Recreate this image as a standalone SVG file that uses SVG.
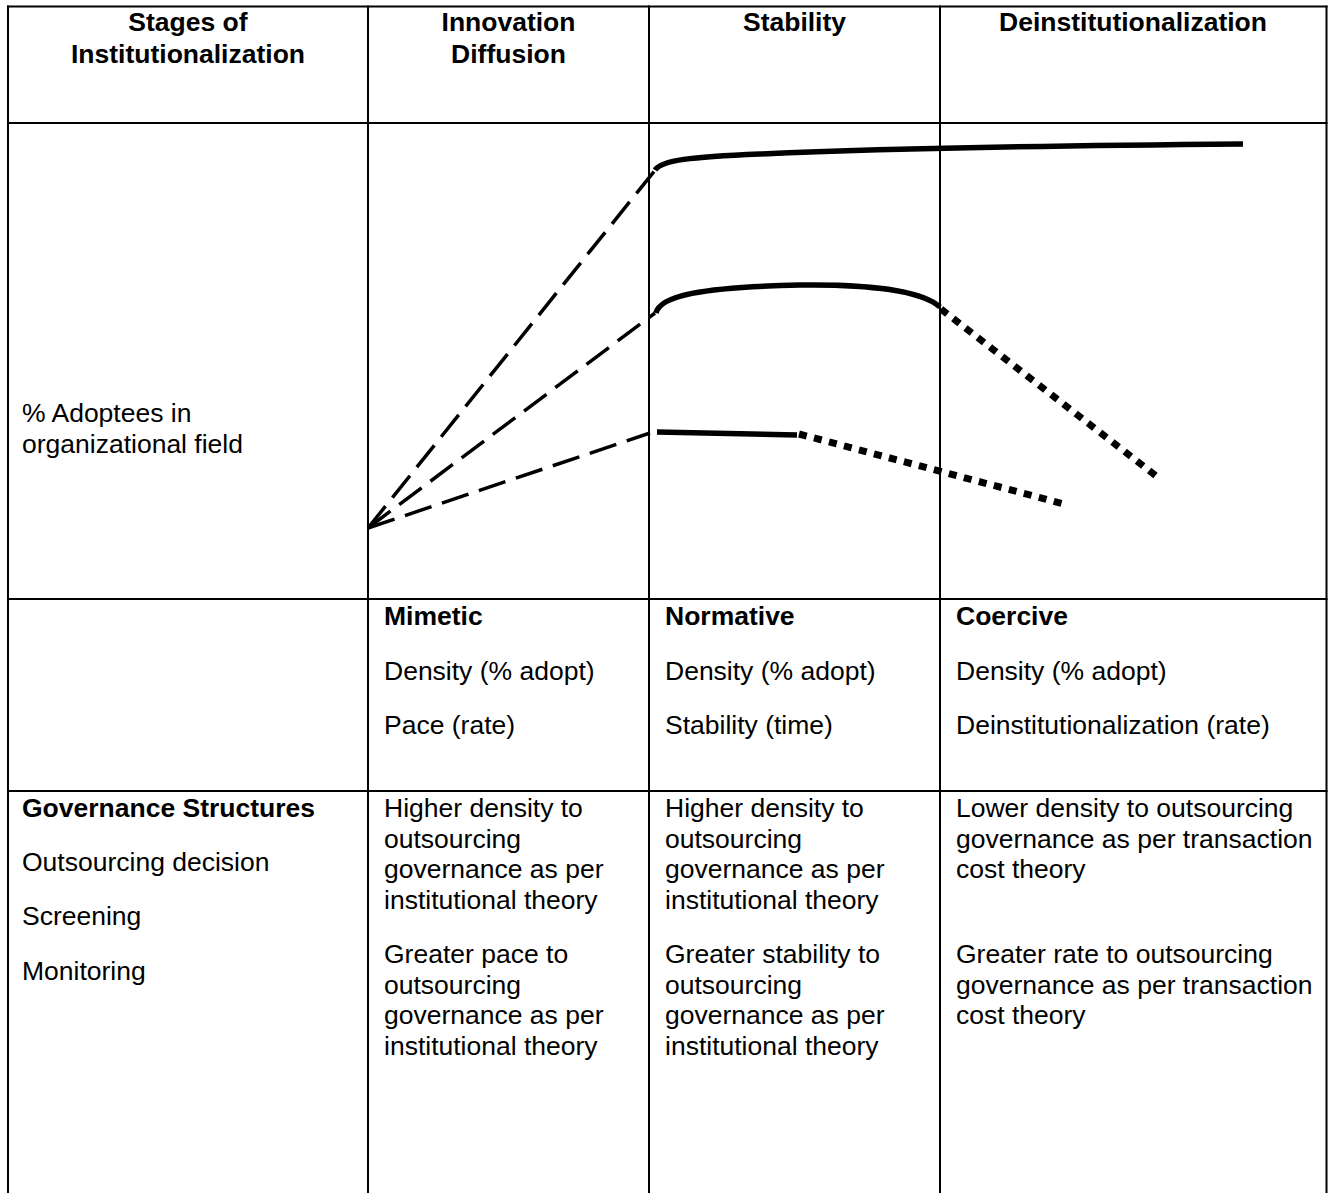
<svg xmlns="http://www.w3.org/2000/svg" width="1330" height="1193" viewBox="0 0 1330 1193">
<style>
  text { font-family: "Liberation Sans", Arial, sans-serif; font-size: 26.5px; fill: #000; }
  .b { font-weight: bold; }
  .h { font-weight: bold; text-anchor: middle; }
  .grid { stroke: #000; stroke-width: 2; fill: none; }
  .dash { stroke: #000; stroke-width: 3.5; fill: none; stroke-dasharray: 28 11; }
  .solid { stroke: #000; stroke-width: 5.5; fill: none; }
  .dot { stroke: #000; stroke-width: 7; fill: none; stroke-dasharray: 8 7.5; }
</style>
<rect width="1330" height="1193" fill="#fff"/>
<g id="table">
  <line class="grid" x1="7" y1="6.5" x2="1327.5" y2="6.5"/>
  <line class="grid" x1="7" y1="123" x2="1327.5" y2="123"/>
  <line class="grid" x1="7" y1="599" x2="1327.5" y2="599"/>
  <line class="grid" x1="7" y1="791" x2="1327.5" y2="791"/>
  <line class="grid" x1="8" y1="5.5" x2="8" y2="1193"/>
  <line class="grid" x1="368" y1="5.5" x2="368" y2="1193"/>
  <line class="grid" x1="649" y1="5.5" x2="649" y2="1193"/>
  <line class="grid" x1="940" y1="5.5" x2="940" y2="1193"/>
  <line class="grid" x1="1326.5" y1="5.5" x2="1326.5" y2="1193"/>
</g>
<g id="header">
  <text class="h" x="188" y="31">Stages of</text>
  <text class="h" x="188" y="63">Institutionalization</text>
  <text class="h" x="508.5" y="31">Innovation</text>
  <text class="h" x="508.5" y="63">Diffusion</text>
  <text class="h" x="794.5" y="31">Stability</text>
  <text class="h" x="1133" y="31">Deinstitutionalization</text>
</g>
<g id="y-label">
  <text x="22" y="422">% Adoptees in</text>
  <text x="22" y="453">organizational field</text>
</g>
<g id="connectors">
  <line class="dash" x1="368" y1="528" x2="656" y2="169"/>
  <line class="dash" x1="368" y1="528" x2="655" y2="313"/>
  <line class="dash" x1="368" y1="528" x2="650" y2="433"/>
  <path class="solid" d="M655,170 C662,160 690,157 760,154 S1000,146 1243,144"/>
  <path class="solid" d="M656,313 C660,296 700,287 800,285 C870,284 922,291 940,307"/>
  <path class="solid" d="M657,432 L797,435"/>
  <line class="dot" x1="941" y1="309" x2="1160" y2="479"/>
  <line class="dot" x1="799" y1="434" x2="1064" y2="504"/>
</g>
<g id="mimetic">
  <text class="b" x="384" y="625">Mimetic</text>
  <text x="384" y="680">Density (% adopt)</text>
  <text x="384" y="734">Pace (rate)</text>
</g>
<g id="normative">
  <text class="b" x="665" y="625">Normative</text>
  <text x="665" y="680">Density (% adopt)</text>
  <text x="665" y="734">Stability (time)</text>
</g>
<g id="coercive">
  <text class="b" x="956" y="625">Coercive</text>
  <text x="956" y="680">Density (% adopt)</text>
  <text x="956" y="734">Deinstitutionalization (rate)</text>
</g>
<g id="governance">
  <text class="b" x="22" y="817">Governance Structures</text>
  <text x="22" y="871">Outsourcing decision</text>
  <text x="22" y="925">Screening</text>
  <text x="22" y="980">Monitoring</text>
</g>
<g id="diffusion-effects">
  <text x="384" y="817">Higher density to</text>
  <text x="384" y="848">outsourcing</text>
  <text x="384" y="878">governance as per</text>
  <text x="384" y="909">institutional theory</text>
  <text x="384" y="963">Greater pace to</text>
  <text x="384" y="994">outsourcing</text>
  <text x="384" y="1024">governance as per</text>
  <text x="384" y="1055">institutional theory</text>
</g>
<g id="stability-effects">
  <text x="665" y="817">Higher density to</text>
  <text x="665" y="848">outsourcing</text>
  <text x="665" y="878">governance as per</text>
  <text x="665" y="909">institutional theory</text>
  <text x="665" y="963">Greater stability to</text>
  <text x="665" y="994">outsourcing</text>
  <text x="665" y="1024">governance as per</text>
  <text x="665" y="1055">institutional theory</text>
</g>
<g id="deinst-effects">
  <text x="956" y="817">Lower density to outsourcing</text>
  <text x="956" y="848">governance as per transaction</text>
  <text x="956" y="878">cost theory</text>
  <text x="956" y="963">Greater rate to outsourcing</text>
  <text x="956" y="994">governance as per transaction</text>
  <text x="956" y="1024">cost theory</text>
</g>
</svg>
